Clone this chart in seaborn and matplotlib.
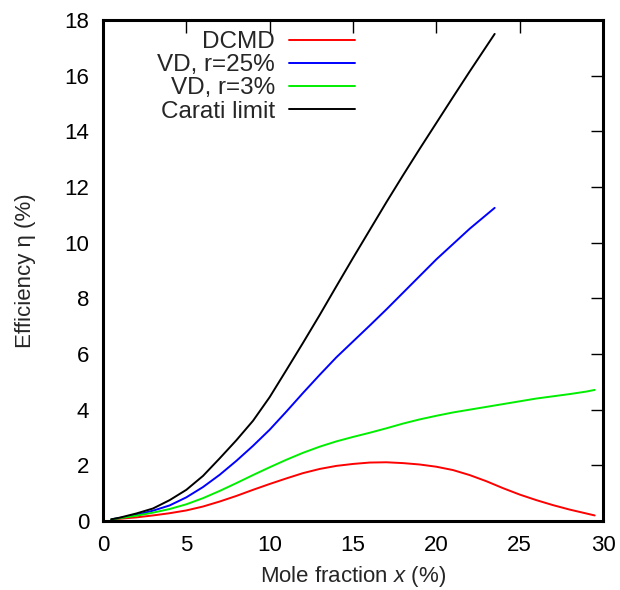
import matplotlib
matplotlib.use("Agg")
import matplotlib.pyplot as plt
from matplotlib.offsetbox import VPacker
import seaborn as sns
import pandas as pd

# ---- data ----
series_names = ["DCMD", "VD, r=25%", "VD, r=3%", "Carati limit"]
series_colors = ["#ff0000", "#0000ff", "#00ee00", "#000000"]

dcmd_x = [0.5, 1, 2, 3, 4, 5, 6, 7, 8, 9, 10, 11, 12, 13, 14, 15, 16, 17, 18, 19, 20,
          21, 22, 23, 24, 25, 26, 27, 28, 29, 29.5]
dcmd_y = [0.06, 0.08, 0.13, 0.20, 0.28, 0.38, 0.52, 0.70, 0.90, 1.12, 1.33, 1.53, 1.72,
          1.87, 1.98, 2.05, 2.10, 2.11, 2.08, 2.03, 1.95, 1.83, 1.65, 1.43, 1.18, 0.95,
          0.75, 0.57, 0.41, 0.27, 0.20]

vd25_x = [0.5, 1, 2, 3, 4, 5, 6, 7, 8, 9, 10, 11, 12, 13, 14, 15, 16, 17, 18, 19, 20,
          21, 22, 23, 23.5]
vd25_y = [0.06, 0.11, 0.22, 0.37, 0.56, 0.85, 1.22, 1.66, 2.16, 2.70, 3.28, 3.93, 4.60,
          5.25, 5.88, 6.45, 7.02, 7.60, 8.20, 8.80, 9.40, 9.95, 10.50, 11.00, 11.25]

vd3_x = [0.5, 1, 2, 3, 4, 5, 6, 7, 8, 9, 10, 11, 12, 13, 14, 15, 16, 17, 18, 19, 20,
         21, 22, 23, 24, 25, 26, 27, 28, 29, 29.5]
vd3_y = [0.06, 0.10, 0.19, 0.30, 0.43, 0.60, 0.82, 1.08, 1.36, 1.65, 1.93, 2.20, 2.45,
         2.67, 2.86, 3.02, 3.17, 3.33, 3.50, 3.65, 3.78, 3.90, 4.00, 4.10, 4.20, 4.30,
         4.40, 4.48, 4.56, 4.65, 4.71]

carati_x = [0.5, 1, 2, 3, 4, 5, 6, 7, 8, 9, 10, 11, 12, 13, 14, 15, 16, 17, 18, 19, 20,
            21, 22, 23, 23.5]
carati_y = [0.06, 0.12, 0.27, 0.45, 0.75, 1.12, 1.62, 2.25, 2.90, 3.60, 4.45, 5.42, 6.40,
            7.40, 8.43, 9.45, 10.45, 11.45, 12.42, 13.37, 14.30, 15.23, 16.15, 17.05, 17.50]

x_ticks = [0, 5, 10, 15, 20, 25, 30]
y_ticks = [0, 2, 4, 6, 8, 10, 12, 14, 16, 18]

frames = []
for name, xs, ys in zip(series_names,
                        [dcmd_x, vd25_x, vd3_x, carati_x],
                        [dcmd_y, vd25_y, vd3_y, carati_y]):
    frames.append(pd.DataFrame({"x": xs, "y": ys, "series": name}))
df = pd.concat(frames, ignore_index=True)

sns.set_theme(style="white")
plt.rcParams["font.family"] = ["Liberation Sans", "DejaVu Sans"]
plt.rcParams["mathtext.fontset"] = "custom"
plt.rcParams["mathtext.it"] = "Liberation Sans:italic"
plt.rcParams["mathtext.rm"] = "Liberation Sans"

fig = plt.figure(figsize=(6.2, 5.9), dpi=100)
ax = fig.add_axes([103 / 620, 69 / 590, 500 / 620, 501 / 590])

sns.lineplot(data=df, x="x", y="y", hue="series", hue_order=series_names,
             palette=dict(zip(series_names, series_colors)),
             sort=False, estimator=None, linewidth=1.4, ax=ax)

ax.set_xlim(0, 30)
ax.set_ylim(0, 18)
ax.set_xticks(x_ticks)
ax.set_yticks(y_ticks)
ax.tick_params(direction="in", length=9, width=1, top=True, right=True,
               labelsize=16, pad=10, colors="black")
for s in ax.spines.values():
    s.set_linewidth(2.2)
    s.set_color("black")
ax.set_xlabel("Mole fraction $x$ (%)", fontsize=16, labelpad=6)
ax.set_ylabel("Efficiency η (%)", fontsize=16, labelpad=20)

leg = ax.legend(loc="upper right", bbox_to_anchor=(0.504, 0.978),
                frameon=False, markerfirst=False, fontsize=17.5,
                handlelength=2.7, handletextpad=0.6, labelspacing=0.05,
                borderaxespad=0, borderpad=0)
for vp in leg.findobj(VPacker):
    vp.align = "right"
for line in leg.get_lines():
    line.set_linewidth(1.4)

fig.savefig("out.png", dpi=100)
